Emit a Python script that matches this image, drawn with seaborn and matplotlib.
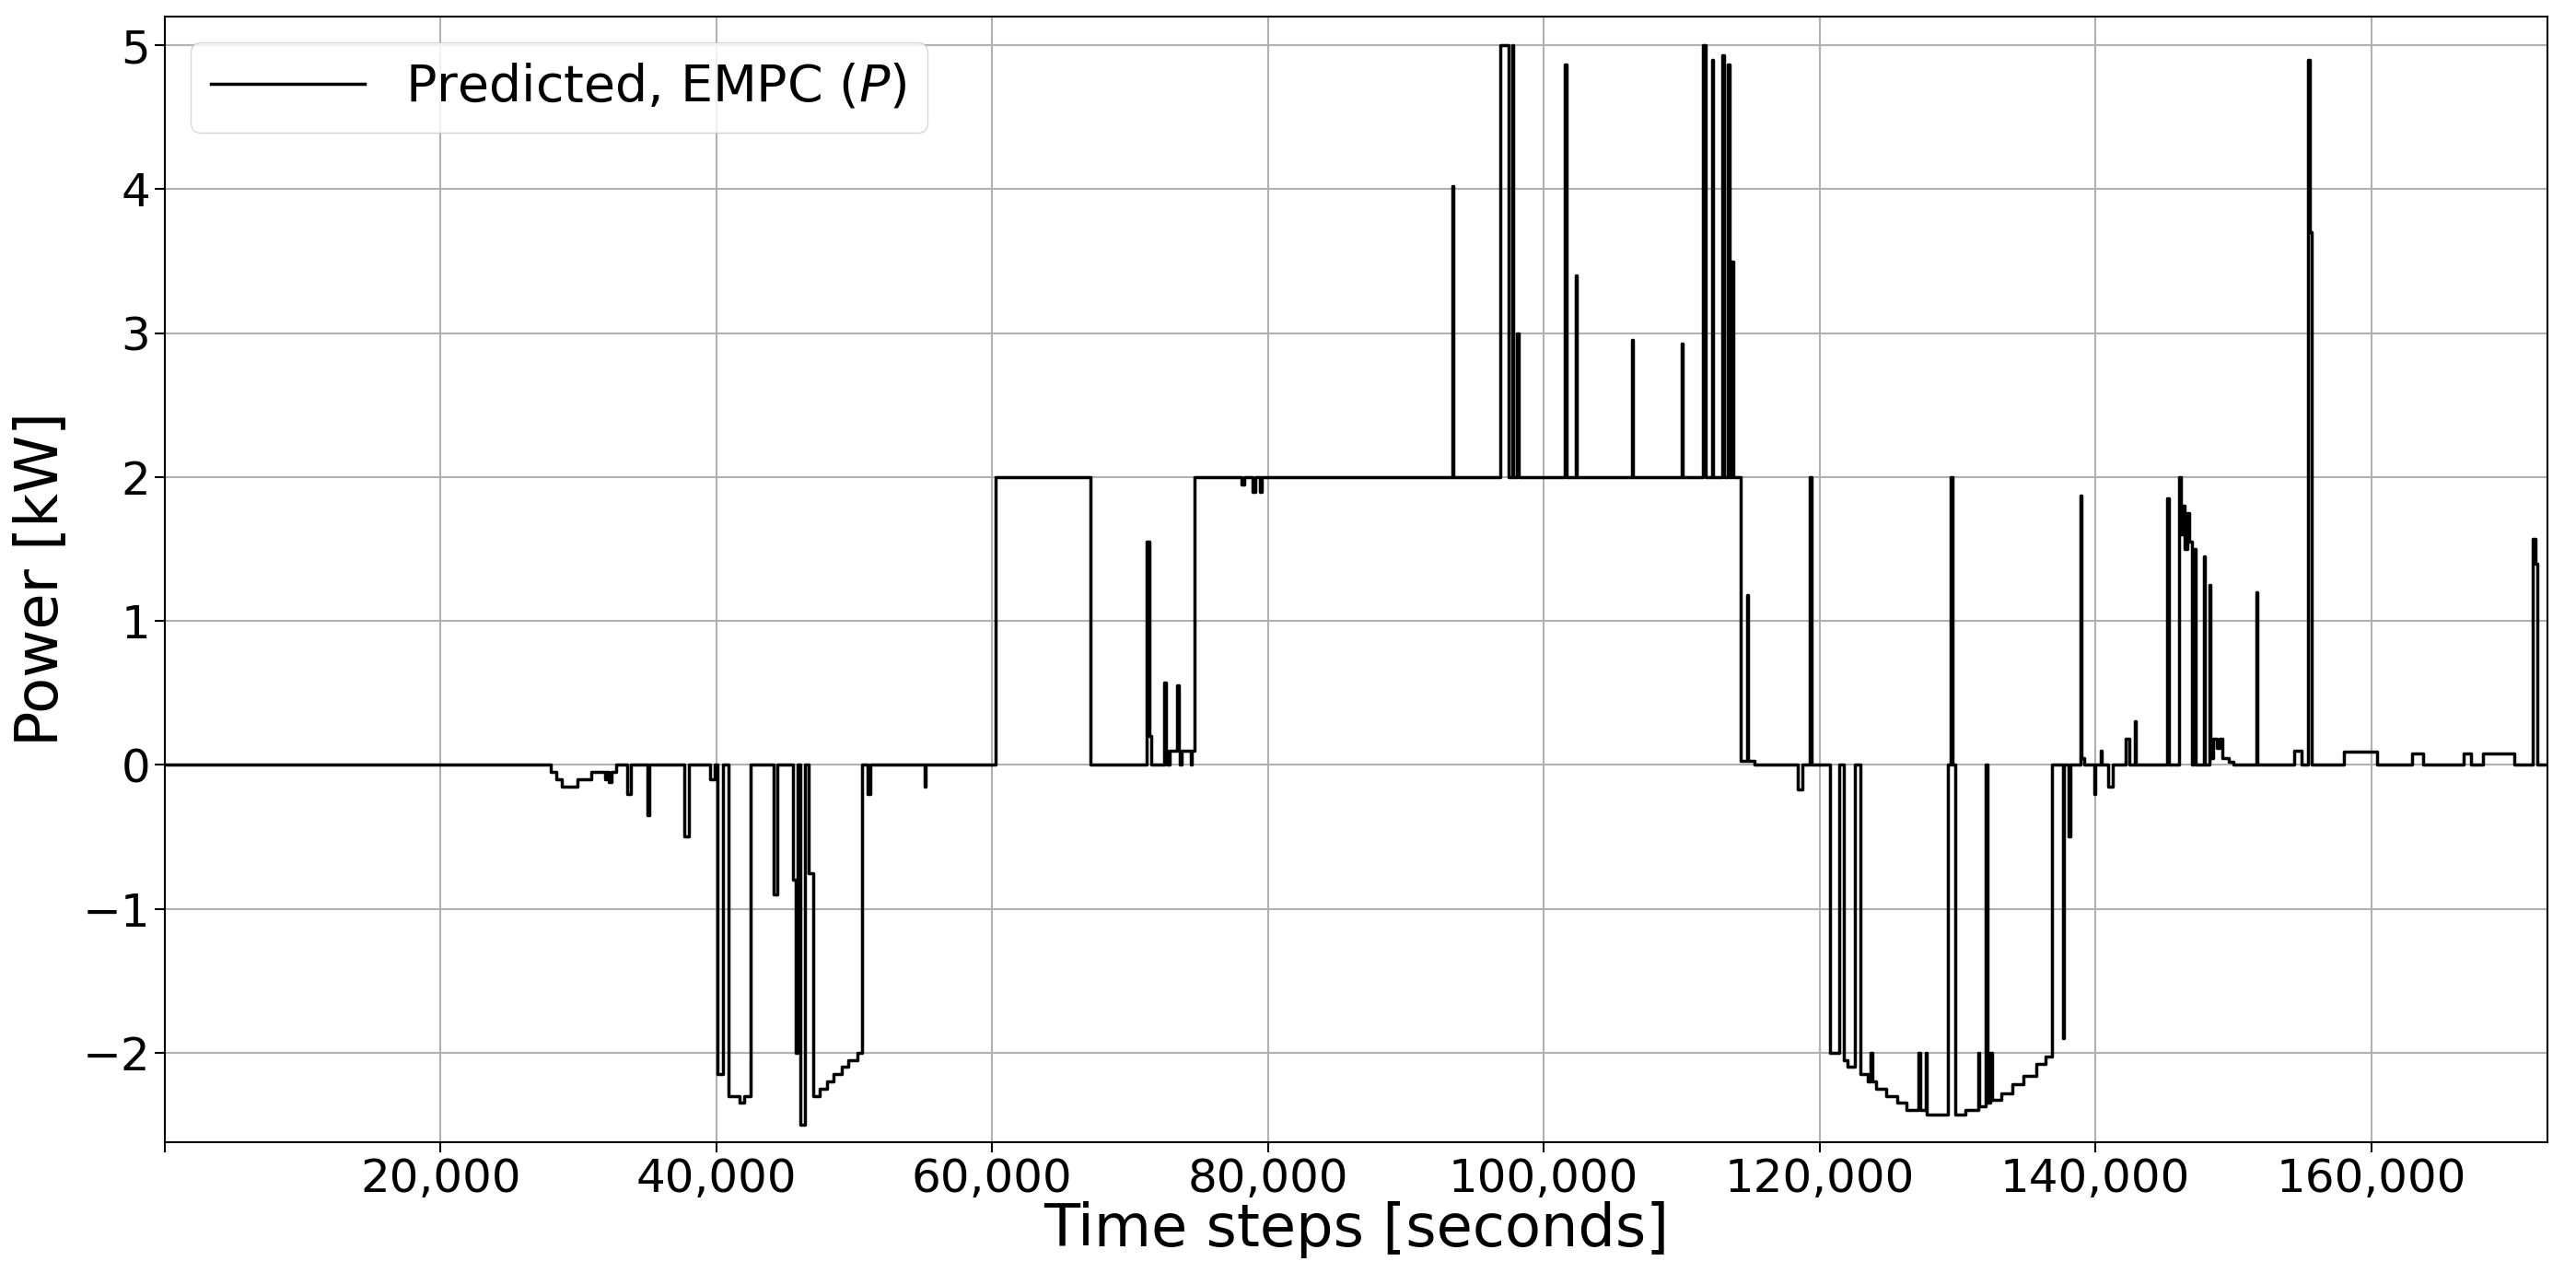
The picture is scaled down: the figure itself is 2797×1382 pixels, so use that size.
import matplotlib
matplotlib.use("Agg")
import matplotlib.pyplot as plt
import matplotlib.ticker as mticker
import seaborn as sns
import pandas as pd

time_s = [0, 27970, 28400, 28800, 29900, 30950, 31900, 32000, 32200, 32400, 32700, 33500, 33800,
          35000, 35150, 37700, 38000, 39550, 39900, 40080, 40470, 40890, 41650, 42000, 42460,
          44150, 44400, 45550, 45760, 45900, 46060, 46400, 46700, 47030, 47500, 48000, 48500,
          49100, 49550, 50200, 50550, 50930, 51140, 55080, 55180, 60250, 67100, 71230, 71400,
          71520, 72450, 72600, 72700, 72850, 73400, 73550, 73600, 73750, 74400, 74500, 74660,
          78100, 78250, 78900, 79050, 79400, 79550, 93350, 93450, 96870, 97470, 97700, 97800,
          98080, 98180, 101540, 101640, 102300, 102400, 106370, 106470, 110000, 110100, 111540,
          111760, 112200, 112300, 112970, 113070, 113350, 113450, 113630, 113730, 114290, 114730,
          114830, 115280, 118400, 118740, 119290, 119400, 120770, 121430, 121760, 122000, 122530,
          122970, 123500, 123700, 123800, 124100, 124800, 125600, 126300, 127200, 127300, 127700,
          127800, 129290, 129510, 129620, 129840, 130600, 131500, 131600, 132040, 132150, 132400,
          132500, 133200, 134000, 134800, 135700, 136400, 136870, 137640, 137740, 138080, 138180,
          138900, 139000, 139200, 139900, 140000, 140390, 140490, 140940, 141270, 142200, 142480,
          142860, 142960, 145220, 145320, 146050, 146200, 146320, 146500, 146650, 146800, 146980,
          147150, 147250, 147860, 147960, 148250, 148350, 148520, 148800, 149000, 149240, 149700,
          150000, 151650, 151750, 154400, 154950, 155440, 155550, 155660, 158030, 160450, 162970,
          163740, 166700, 167260, 168140, 170390, 171700, 171930, 172040, 172800]
power_kw = [0, -0.05, -0.1, -0.15, -0.1, -0.05, -0.1, -0.05, -0.12, -0.05, 0, -0.2, 0,
            -0.35, 0, -0.5, 0, -0.1, 0, -2.15, 0, -2.3, -2.35, -2.3, 0,
            -0.9, 0, -0.8, -2.0, 0, -2.5, 0, -0.75, -2.3, -2.25, -2.2, -2.15,
            -2.1, -2.05, -2.0, 0, -0.2, 0, -0.15, 0, 2, 0, 1.55, 0.2,
            0, 0.57, 0.1, 0, 0.1, 0.55, 0.1, 0, 0.1, 0, 0.1, 2,
            1.95, 2, 1.9, 2, 1.9, 2, 4.02, 2, 5, 2, 5, 2,
            3.0, 2, 4.87, 2, 3.4, 2, 2.95, 2, 2.93, 2, 5,
            2, 4.9, 2, 4.93, 2, 4.87, 2, 3.5, 2, 0.03, 1.18,
            0.03, 0, -0.17, 0, 2.0, 0, -2.0, 0, -2.05, -2.1, 0,
            -2.15, -2.2, -2.0, -2.2, -2.25, -2.3, -2.35, -2.4, -2.0, -2.4, -2.0,
            -2.43, 0, 2.0, 0, -2.43, -2.4, -2.0, -2.37, 0, -2.35, -2.0,
            -2.33, -2.28, -2.22, -2.16, -2.08, -2.03, 0, -1.9, 0, -0.5, 0,
            1.87, 0.05, 0, -0.2, 0, 0.1, 0, -0.15, 0, 0.18, 0,
            0.3, 0, 1.85, 0, 2.0, 1.6, 1.8, 1.5, 1.75, 1.55, 0,
            1.5, 0, 1.45, 0, 1.25, 0.05, 0.18, 0.12, 0.18, 0.05, 0.02,
            0, 1.2, 0, 0.1, 0, 4.9, 3.7, 0, 0.09, 0, 0.08,
            0, 0.08, 0, 0.08, 0, 1.57, 1.4, 0, 0]

df = pd.DataFrame({"t": time_s, "P": power_kw})

plt.rcParams["font.family"] = ["DejaVu Sans"]
fig = plt.figure(figsize=(27.97, 13.82), dpi=100)
ax = fig.add_axes([0.064, 0.103, 0.925, 0.884])
sns.lineplot(data=df, x="t", y="P", ax=ax, color="black", linewidth=2.5,
             drawstyle="steps-post", estimator=None, sort=False,
             label="Predicted, EMPC ($P$)")
ax.set_xlim(0, 172800)
ax.set_ylim(-2.62, 5.2)
ax.set_xticks([0, 20000, 40000, 60000, 80000, 100000, 120000, 140000, 160000])
ax.xaxis.set_major_formatter(mticker.FuncFormatter(lambda v, p: "" if v == 0 else f"{int(v):,}"))
ax.set_yticks([-2, -1, 0, 1, 2, 3, 4, 5])
ax.grid(True, color="#b0b0b0", linewidth=1.5)
ax.tick_params(labelsize=36, length=8, width=1.5)
for s in ax.spines.values():
    s.set_color("black"); s.set_linewidth(1.5)
ax.set_xlabel("Time steps [seconds]", fontsize=46, labelpad=0)
ax.set_ylabel("Power [kW]", fontsize=46, labelpad=10)
ax.legend(loc="upper left", fontsize=40, handlelength=3, frameon=True)
fig.savefig("out.png", dpi=100)
